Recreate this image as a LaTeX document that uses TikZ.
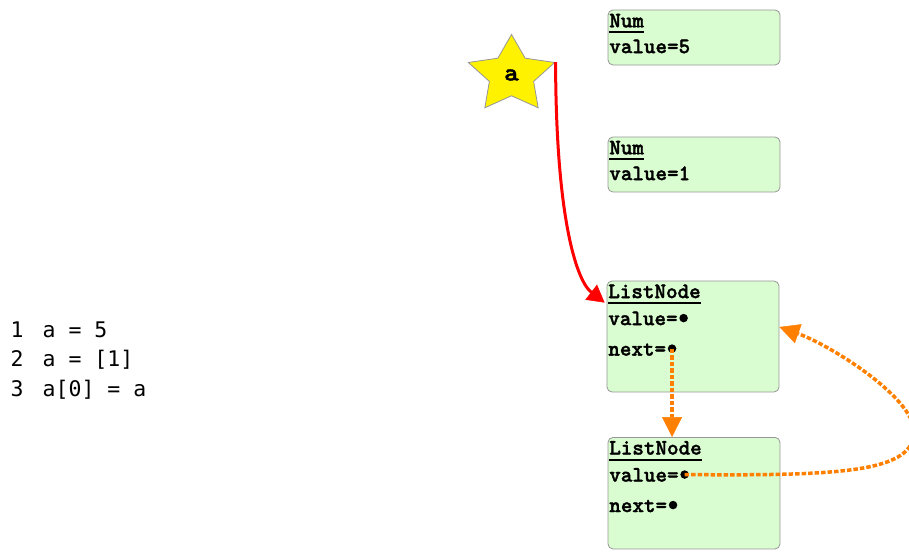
\documentclass[tikz,border=0pt]{standalone}
\usepackage{fontspec}
\usetikzlibrary{arrows.meta,shapes.geometric}

\newfontfamily\codefont{DejaVu Sans Mono}
\newfontfamily\boxfont{lmmonolt10-bold.otf}[FakeBold=1.6]

\definecolor{boxgreen}{RGB}{217,252,208}
\definecolor{boxedge}{RGB}{150,150,150}
\definecolor{linkorange}{RGB}{255,128,0}

% underlined class name (thick rule below the baseline)
\newcommand\hdr[1]{\setbox0\hbox{#1}\rlap{\rule[-6pt]{\wd0}{2pt}}\box0}

\begin{document}
\begin{tikzpicture}[x=1pt,y=-1pt,
  objbox/.style={draw=boxedge, fill=boxgreen, rounded corners=5pt, line width=0.8pt,
                 minimum width=172pt, inner sep=0pt},
  field/.style={anchor=base west, inner sep=0pt, font=\boxfont\fontsize{22}{26}\selectfont},
  ptr/.style={circle, fill=black, inner sep=0pt, minimum size=8.5pt},
  codeline/.style={anchor=base west, inner sep=0pt, font=\codefont\fontsize{21.5}{24}\selectfont},
  orangelink/.style={draw=linkorange, line width=3.5pt, dash pattern=on 4.5pt off 2pt,
                     -{Triangle[width=20pt,length=20pt,line width=0.5pt]}},
  redlink/.style={draw=red, line width=3pt,
                  -{Triangle[width=19pt,length=17pt,line width=0.5pt]}},
]
\useasboundingbox (0,0) rectangle (909,551);
\clip (0,0) rectangle (909,551);

% source listing
\node[codeline] (c1n) at (10.5,337.3) {1};
\node[codeline] (c1c) at (42.5,337.3) {a = 5};
\node[codeline] (c2n) at (10.5,366.7) {2};
\node[codeline] (c2c) at (42.5,366.7) {a = [1]};
\node[codeline] (c3n) at (10.5,396) {3};
\node[codeline] (c3c) at (42.5,396) {a[0] = a};

% variable
\begin{scope}[shift={(511.5,75)}, xscale=1.12]
  \node[star, star points=5, star point ratio=1.95, minimum size=81pt, inner sep=0pt,
        draw=boxedge, fill=yellow, line width=0.8pt, transform shape,
        font=\boxfont\fontsize{25}{28}\selectfont] (star) at (0,0) {a};
\end{scope}

% Num objects
\node[objbox, minimum height=55pt] (num5) at (694,37.5) {};
\node[field] (num5h) at ([shift={(1.5,17.7)}]num5.north west) {\hdr{Num}};
\node[field] (num5v) at ([shift={(1.5,43.5)}]num5.north west) {value=5};

\node[objbox, minimum height=55pt] (num1) at (694,164.5) {};
\node[field] (num1h) at ([shift={(1.5,17.7)}]num1.north west) {\hdr{Num}};
\node[field] (num1v) at ([shift={(1.5,43.5)}]num1.north west) {value=1};

% ListNode objects
\node[objbox, minimum height=111pt] (ln1) at (693,336.5) {};
\node[field] (ln1h) at ([shift={(1.5,17.5)}]ln1.north west) {\hdr{ListNode}};
\node[field] (ln1val) at ([shift={(1.5,44.5)}]ln1.north west) {value=};
\node[field] (ln1nxt) at ([shift={(1.5,75)}]ln1.north west) {next=};
\node[ptr] (ln1v) at ([shift={(5.8,-7)}]ln1val.base east) {};
\node[ptr] (ln1n) at ([shift={(5.8,-7)}]ln1nxt.base east) {};

\node[objbox, minimum height=111.5pt] (ln2) at (694,493.2) {};
\node[field] (ln2h) at ([shift={(1.5,17.5)}]ln2.north west) {\hdr{ListNode}};
\node[field] (ln2val) at ([shift={(1.5,44.5)}]ln2.north west) {value=};
\node[field] (ln2nxt) at ([shift={(1.5,75)}]ln2.north west) {next=};
\node[ptr] (ln2v) at ([shift={(5.8,-7)}]ln2val.base east) {};
\node[ptr] (ln2n) at ([shift={(5.8,-7)}]ln2nxt.base east) {};

% references
\draw[redlink] (star.outer point 5) .. controls (556,225) and (578,282)
  .. ([xshift=-2pt,yshift=-22pt]ln1.north west);

\draw[orangelink] (ln1n.center) -- (ln1n.center |- ln2.north);

\coordinate (bend) at (914,435);
\draw[orangelink] (ln2v.center) .. controls (840,476) and (909,472) .. (bend)
  .. controls (919,400) and (830,345) .. ([yshift=9.5pt]ln1.east);
\end{tikzpicture}
\end{document}
